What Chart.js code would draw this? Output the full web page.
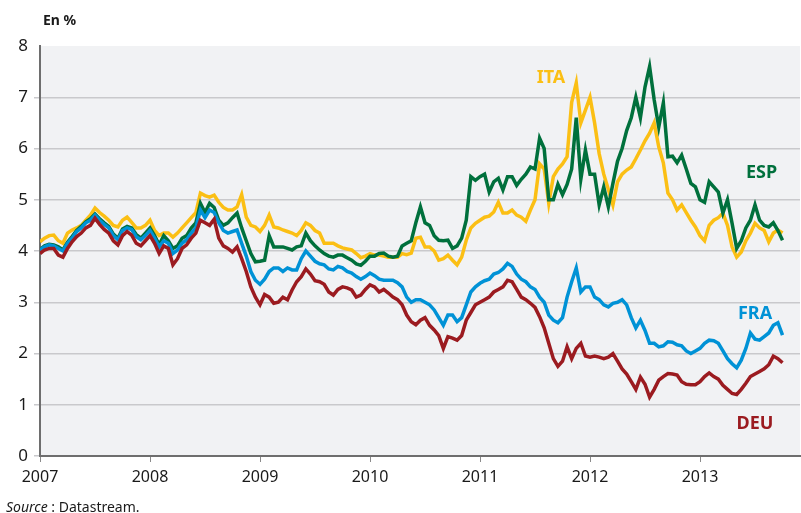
<!DOCTYPE html>
<html>
<head>
<meta charset="utf-8">
<script src="https://cdn.jsdelivr.net/npm/chart.js@4.4.1/dist/chart.umd.min.js"></script>
<style>
  html, body { margin: 0; padding: 0; background: #ffffff; }
  #wrap { width: 801px; height: 513px; }
</style>
</head>
<body>
<div id="wrap"><canvas id="chart" width="801" height="513"></canvas></div>
<script>
// Half-month points, Jan 2007 -> Oct 2013 (decimal years)
const dates = Array.from({ length: 163 }, (_, i) => 2007 + i / 24);
const yearTicks = [2007, 2008, 2009, 2010, 2011, 2012, 2013];

// 10-year government bond yields, in %
const deu = [
    3.95, 4.02, 4.05, 4.05, 3.92, 3.88, 4.05, 4.18, 4.28, 4.35, 4.45, 4.5,
    4.64, 4.52, 4.42, 4.35, 4.2, 4.12, 4.3, 4.38, 4.31, 4.15, 4.1, 4.2,
    4.3, 4.15, 3.95, 4.1, 4.05, 3.73, 3.85, 4.05, 4.12, 4.25, 4.35, 4.6,
    4.55, 4.5, 4.62, 4.25, 4.1, 4.05, 3.98, 4.08, 3.85, 3.6, 3.3, 3.1,
    2.95, 3.15, 3.1, 2.98, 3.0, 3.1, 3.05, 3.24, 3.4, 3.5, 3.65, 3.55,
    3.42, 3.4, 3.35, 3.2, 3.14, 3.25, 3.3, 3.28, 3.24, 3.1, 3.14, 3.25,
    3.34, 3.3, 3.2, 3.25, 3.18, 3.1, 3.05, 2.95, 2.75, 2.62, 2.56, 2.65,
    2.7, 2.55, 2.46, 2.35, 2.1, 2.33, 2.3, 2.26, 2.35, 2.65, 2.8, 2.95,
    3.0, 3.05, 3.1, 3.2, 3.25, 3.3, 3.43, 3.4, 3.25, 3.1, 3.05, 2.98,
    2.9, 2.72, 2.5, 2.2, 1.9, 1.75, 1.85, 2.13, 1.9, 2.1, 2.2, 1.95,
    1.93, 1.95, 1.93, 1.9, 1.93, 2.0, 1.85, 1.7, 1.6, 1.45, 1.3, 1.54,
    1.4, 1.15, 1.3, 1.48, 1.55, 1.61, 1.6, 1.58, 1.45, 1.4, 1.39, 1.39,
    1.45, 1.55, 1.62, 1.55, 1.5, 1.38, 1.3, 1.22, 1.2, 1.3, 1.42, 1.55,
    1.6, 1.65, 1.7, 1.78, 1.95, 1.9, 1.82];
const fra = [
    4.02, 4.08, 4.12, 4.1, 4.05, 4.0, 4.15, 4.25, 4.38, 4.45, 4.55, 4.6,
    4.7, 4.6, 4.52, 4.45, 4.3, 4.22, 4.4, 4.45, 4.42, 4.28, 4.22, 4.3,
    4.4, 4.25, 4.08, 4.2, 4.15, 3.95, 4.02, 4.15, 4.22, 4.35, 4.45, 4.8,
    4.65, 4.8, 4.75, 4.55, 4.4, 4.35, 4.38, 4.41, 4.15, 3.9, 3.6, 3.43,
    3.35, 3.45, 3.6, 3.67, 3.67, 3.6, 3.67, 3.63, 3.63, 3.85, 4.0, 3.9,
    3.8, 3.75, 3.73, 3.65, 3.63, 3.7, 3.67, 3.6, 3.57, 3.5, 3.45, 3.5,
    3.57, 3.52, 3.45, 3.43, 3.43, 3.43, 3.38, 3.3, 3.1, 3.0, 3.05, 3.05,
    3.0, 2.95, 2.85, 2.7, 2.55, 2.75, 2.75, 2.62, 2.7, 2.95, 3.2, 3.3,
    3.37, 3.42, 3.45, 3.55, 3.58, 3.65, 3.76, 3.7, 3.55, 3.45, 3.4, 3.3,
    3.25, 3.1, 3.0, 2.75, 2.65, 2.6, 2.7, 3.1, 3.4, 3.67, 3.2, 3.3,
    3.3, 3.1, 3.05, 2.95, 2.91, 2.98, 3.0, 3.05, 2.95, 2.7, 2.5, 2.65,
    2.45, 2.2, 2.2, 2.13, 2.15, 2.23, 2.22, 2.17, 2.15, 2.05, 2.0, 2.05,
    2.1, 2.2, 2.26, 2.25, 2.2, 2.05, 1.9, 1.8, 1.72, 1.87, 2.1, 2.4,
    2.28, 2.26, 2.33, 2.4, 2.55, 2.6, 2.36];
const esp = [
    4.03, 4.1, 4.13, 4.12, 4.08, 4.02, 4.17, 4.28, 4.4, 4.48, 4.57, 4.63,
    4.72, 4.63, 4.55, 4.48, 4.33, 4.25, 4.43, 4.48, 4.45, 4.32, 4.25, 4.35,
    4.45, 4.3, 4.12, 4.3, 4.2, 4.05, 4.1, 4.25, 4.3, 4.45, 4.55, 4.93,
    4.75, 4.93, 4.85, 4.6, 4.5, 4.55, 4.65, 4.74, 4.45, 4.2, 3.95, 3.79,
    3.8, 3.82, 4.3, 4.08, 4.08, 4.08, 4.05, 4.02, 4.08, 4.1, 4.35, 4.2,
    4.1, 4.02, 3.95, 3.9, 3.88, 3.92, 3.92, 3.87, 3.82, 3.75, 3.72, 3.8,
    3.9, 3.9, 3.95, 3.96, 3.9, 3.88, 3.9, 4.1, 4.15, 4.2, 4.55, 4.86,
    4.55, 4.5, 4.3, 4.21, 4.2, 4.21, 4.05, 4.1, 4.25, 4.6, 5.45, 5.38,
    5.45, 5.5, 5.15, 5.35, 5.42, 5.19, 5.45, 5.45, 5.28, 5.4, 5.5, 5.64,
    5.6, 6.2, 6.0, 5.0, 5.0, 5.3, 5.1, 5.3, 5.6, 6.6, 5.4, 5.97,
    5.5, 5.5, 4.9, 5.25, 4.86, 5.32, 5.75, 6.0, 6.35, 6.6, 7.0, 6.6,
    7.2, 7.6, 6.95, 6.42, 6.89, 5.84, 5.85, 5.72, 5.87, 5.6, 5.32, 5.25,
    5.0, 4.95, 5.35, 5.25, 5.15, 4.74, 5.0, 4.54, 4.05, 4.2, 4.45, 4.6,
    4.9, 4.6, 4.5, 4.47, 4.55, 4.4, 4.21];
const ita = [
    4.18, 4.25, 4.3, 4.31, 4.2, 4.15, 4.35, 4.41, 4.45, 4.5, 4.6, 4.7,
    4.84, 4.75, 4.68, 4.6, 4.5, 4.47, 4.6, 4.66, 4.56, 4.45, 4.45, 4.5,
    4.6, 4.4, 4.3, 4.35, 4.35, 4.27, 4.35, 4.45, 4.55, 4.65, 4.75, 5.13,
    5.08, 5.05, 5.09, 4.95, 4.85, 4.8, 4.8, 4.86, 5.1, 4.66, 4.5, 4.47,
    4.38, 4.5, 4.7, 4.47, 4.45, 4.41, 4.38, 4.35, 4.3, 4.4, 4.55, 4.5,
    4.4, 4.35, 4.15, 4.15, 4.15, 4.1, 4.06, 4.04, 4.02, 3.95, 3.87, 3.9,
    3.95, 3.92, 3.92, 3.9, 3.88, 3.88, 3.88, 3.95, 3.93, 3.96, 4.25, 4.27,
    4.08, 4.08, 4.0, 3.82, 3.85, 3.92, 3.82, 3.73, 3.88, 4.21, 4.45, 4.54,
    4.6, 4.66, 4.68, 4.76, 4.95, 4.74, 4.74, 4.8, 4.7, 4.66, 4.58, 4.8,
    5.0, 5.7, 5.6, 4.93, 5.45, 5.6, 5.7, 5.84, 6.9, 7.28, 6.5, 6.75,
    7.0, 6.5, 5.9, 5.5, 5.2, 4.9, 5.35, 5.5, 5.58, 5.64, 5.8, 5.97,
    6.15, 6.3, 6.5, 6.03, 5.72, 5.13, 5.0, 4.8, 4.9, 4.75, 4.6, 4.47,
    4.3, 4.2, 4.5, 4.6, 4.65, 4.74, 4.5, 4.08, 3.88, 3.98, 4.2, 4.35,
    4.54, 4.45, 4.4, 4.18, 4.35, 4.41, 4.35];

const colors = { ITA: '#fbbf14', ESP: '#00703c', FRA: '#0092d6', DEU: '#9b1b20' };

// Series name tags, anchored in data coordinates
const tags = [
    { text: 'ITA', x: 2011.645, y: 7.38 },
    { text: 'ESP', x: 2013.56, y: 5.52 },
    { text: 'FRA', x: 2013.5, y: 2.77 },
    { text: 'DEU', x: 2013.5, y: 0.62 },
];

const toPoints = (values) => values.map((v, i) => ({ x: dates[i], y: v }));

const FONT = "'Noto Sans', 'Open Sans', sans-serif";

const decorPlugin = {
    id: 'decor',
    beforeDraw(chart) {
        const { ctx, chartArea: a } = chart;
        ctx.save();
        ctx.fillStyle = '#f1f2f4';
        ctx.fillRect(a.left, a.top, a.right - a.left, a.bottom - a.top);
        ctx.restore();
    },
    afterDatasetsDraw(chart) {
        const { ctx, scales } = chart;
        ctx.save();
        ctx.font = `bold 18px ${FONT}`;
        ctx.textAlign = 'center';
        ctx.textBaseline = 'middle';
        tags.forEach((t) => {
            ctx.fillStyle = colors[t.text];
            ctx.fillText(t.text, scales.x.getPixelForValue(t.x), scales.y.getPixelForValue(t.y));
        });
        ctx.restore();
    },
    afterDraw(chart) {
        const { ctx } = chart;
        ctx.save();
        ctx.fillStyle = '#1a1a1a';
        ctx.textBaseline = 'alphabetic';
        ctx.textAlign = 'left';
        ctx.font = `bold 14px ${FONT}`;
        ctx.fillText('En %', 43, 25);

        ctx.font = `italic 14px ${FONT}`;
        ctx.fillText('Source', 6, 512);
        const w = ctx.measureText('Source').width;
        ctx.font = `14px ${FONT}`;
        ctx.fillText(' : Datastream.', 6 + w, 512);
        ctx.restore();
    },
};

function makeSet(label, values, order) {
    return {
        label,
        data: toPoints(values),
        borderColor: colors[label],
        backgroundColor: colors[label],
        borderWidth: 3.5,
        pointRadius: 0,
        tension: 0,
        fill: false,
        order,
    };
}

new Chart(document.getElementById('chart'), {
    type: 'line',
    data: {
        datasets: [
            makeSet('DEU', deu, 1),
            makeSet('FRA', fra, 2),
            makeSet('ESP', esp, 3),
            makeSet('ITA', ita, 4),
        ],
    },
    options: {
        responsive: false,
        animation: false,
        layout: { padding: { top: 46, right: 1, left: 0, bottom: 0 } },
        plugins: {
            legend: { display: false },
            tooltip: { enabled: false },
        },
        scales: {
            x: {
                type: 'linear',
                min: 2007,
                max: 2013.909,
                afterBuildTicks: (scale) => {
                    scale.ticks = yearTicks.map((v) => ({ value: v }));
                },
                afterFit: (scale) => { scale.height = 57; },
                ticks: {
                    color: '#1a1a1a',
                    font: { family: FONT, size: 16 },
                    padding: 6,
                    maxRotation: 0,
                    autoSkip: false,
                    callback: (v) => String(v),
                },
                grid: {
                    drawOnChartArea: false,
                    drawTicks: true,
                    tickLength: 6,
                    tickColor: '#8a8a8a',
                    tickWidth: 1,
                },
                border: { display: true, color: '#6e6e6e', width: 2 },
            },
            y: {
                min: 0,
                max: 8,
                afterFit: (scale) => { scale.width = 40; },
                ticks: {
                    stepSize: 1,
                    color: '#1a1a1a',
                    font: { family: FONT, size: 17 },
                    padding: 6,
                },
                grid: {
                    color: (c) => (c.tick && c.tick.value === 8 ? 'rgba(0,0,0,0)' : '#c9c9cc'),
                    lineWidth: 1.5,
                    drawTicks: true,
                    tickLength: 6,
                },
                border: { display: true, color: '#6e6e6e', width: 2 },
            },
        },
    },
    plugins: [decorPlugin],
});
</script>
</body>
</html>
